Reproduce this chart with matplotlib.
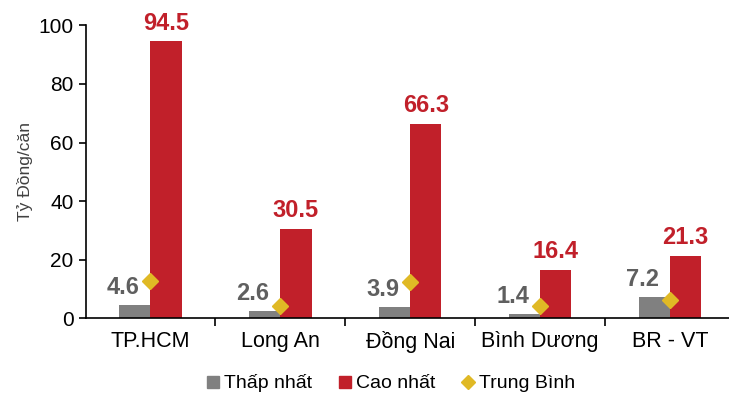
import matplotlib.pyplot as plt
from matplotlib.lines import Line2D
import numpy as np

# gia can ho theo tinh, ty dong/can
regions = ["TP.HCM", "Long An", "Đồng Nai", "Bình Dương", "BR - VT"]
low_vals = [4.6, 2.6, 3.9, 1.4, 7.2]
high_vals = [94.5, 30.5, 66.3, 16.4, 21.3]
avg_vals = [12.8, 4.2, 12.4, 4.3, 6.4]

plt.rcParams['font.family'] = ['Liberation Sans', 'DejaVu Sans']

fig = plt.figure(figsize=(7.29, 3.94), dpi=100)
ax = fig.add_axes([0.1173, 0.192, 0.891, 0.7437])

x = np.arange(len(regions))
w = 0.24
grey = "#808080"
red = "#C1202A"
gold = "#E0B925"

ax.bar(x - w / 2, low_vals, w, color=grey)
ax.bar(x + w / 2, high_vals, w, color=red)
ax.plot(x, avg_vals, linestyle="none", marker="D", markersize=8.5,
        color=gold, zorder=3)

for xi, lo, hi in zip(x, low_vals, high_vals):
    ax.annotate(f"{lo:.1f}", (xi - w / 2 - 0.09, lo), xytext=(0, 8),
                textcoords="offset points", ha="center", va="baseline",
                fontsize=17, fontweight="bold", color="#5f5f5f")
    ax.annotate(f"{hi:.1f}", (xi + w / 2, hi), xytext=(0, 8.5),
                textcoords="offset points", ha="center", va="baseline",
                fontsize=17, fontweight="bold", color=red)

ax.set_xlim(-0.5, len(regions) - 0.5)
ax.set_ylim(0, 100)
ax.set_yticks(range(0, 101, 20))
ax.set_xticks(x)
ax.set_xticklabels(regions, fontsize=15.5)
ax.set_xticks(np.arange(0.5, len(regions) - 0.5), minor=True)
ax.tick_params(axis="x", which="major", length=0, pad=9)
ax.tick_params(axis="x", which="minor", length=6, width=1.2, direction="out")
ax.tick_params(axis="y", labelsize=15, length=5, width=1.2, direction="out")
ax.set_ylabel("Tỷ Đồng/căn", fontsize=12.5, color="#404040", labelpad=4)

for side in ["top", "right"]:
    ax.spines[side].set_visible(False)
for side in ["left", "bottom"]:
    ax.spines[side].set_linewidth(1.2)

handles = [
    Line2D([], [], linestyle="none", marker="s", markersize=8, color=grey),
    Line2D([], [], linestyle="none", marker="s", markersize=8, color=red),
    Line2D([], [], linestyle="none", marker="D", markersize=7, color=gold),
]
fig.legend(handles, ["Thấp nhất", "Cao nhất", "Trung Bình"],
           loc="center", bbox_to_anchor=(0.536, 0.027), ncol=3,
           frameon=False, fontsize=14, handlelength=0.7, handletextpad=0.25,
           columnspacing=1.3)

fig.savefig("out.png", dpi=100)
